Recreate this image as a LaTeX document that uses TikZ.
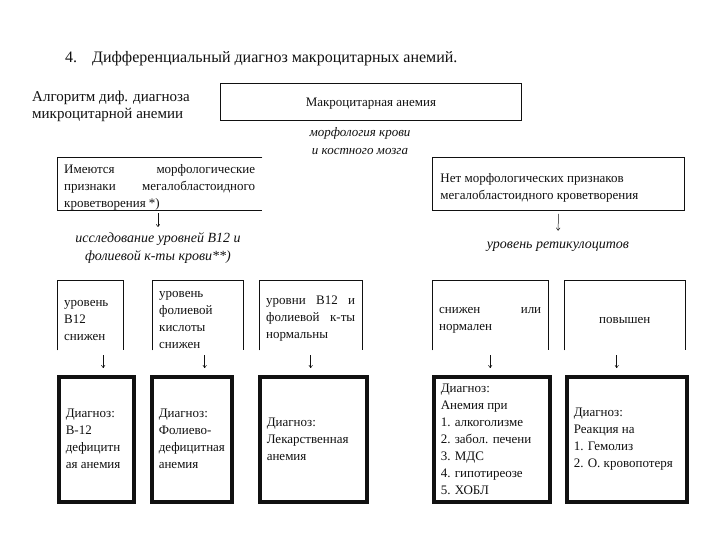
\documentclass[tikz,border=0pt]{standalone}
\usepackage{fontspec}
\setmainfont{Liberation Serif}
\usepackage{tikz}
\usetikzlibrary{arrows.meta,positioning}
\definecolor{MAInk}{HTML}{111111}
\definecolor{MAPaper}{HTML}{FFFFFF}
\tikzset{
  body/.style={text=MAInk,font=\fontsize{13}{17}\selectfont},
  note/.style={text=MAInk,font=\fontsize{13}{18}\selectfont\itshape,align=center},
  bignote/.style={note,font=\fontsize{14}{18}\selectfont\itshape},
  thin/.style={draw=MAInk,line width=0.9pt},
  heavy/.style={draw=MAInk,line width=3.5pt},
  cell/.style={body,anchor=north west,inner xsep=7pt,inner ysep=0pt,align=flush left},
  lower/.style={execute at begin node={\rule{0pt}{16pt}}},
  down/.style={-{To[length=3pt,width=4pt]},MAInk,line width=0.5pt},
}

\begin{document}
\begin{tikzpicture}[x=1pt,y=-1pt]
    \useasboundingbox[fill=MAPaper] (0,0) rectangle (720,540);
    % --- heading ---
    \node[anchor=base west,inner sep=0pt,text=MAInk,font=\fontsize{16}{20}\selectfont] (title) at (65,63)
      {4.\hspace{15pt}Дифференциальный диагноз макроцитарных анемий.};
    \node[anchor=west,align=flush left,inner sep=0pt,text=MAInk,font=\fontsize{15}{17}\selectfont] (algo) at (32,106)
      {Алгоритм диф. диагноза\\микроцитарной анемии};
    \node[body,thin,anchor=north west,minimum width=301,minimum height=37,inner sep=0pt,
          text depth=0pt] (macro) at (220,83) {Макроцитарная анемия};
    \node[note] (morph) at (360,141) {морфология крови\\и костного мозга};

    % --- with / without megaloblastic features ---
    \node[cell,lower,text width=191,minimum height=53] (yes) at (57,157)
      {Имеются\hfill морфологические\\признаки\hfill мегалобластоидного\\кроветворения *)};
    \draw[thin] (yes.north east) -| (yes.south west) -- (yes.south east);
    \node[cell,lower,thin,text width=236,inner xsep=8pt,minimum height=53] (no) at (432,157)
      {Нет морфологических признаков\\мегалобластоидного кроветворения};
    \node[bignote] (yesnote) at (158,248) {исследование уровней B12 и\\фолиевой к-ты крови**)};
    \node[bignote] (nonote) at (558,247) {уровень ретикулоцитов};
    \draw[down,shorten <=3pt,shorten >=2pt] (yesnote.north |- yes.south) -- (yesnote.north);
    \draw[down,shorten <=3pt,shorten >=8pt] (no.south) -- (nonote.north);

    % --- levels (open at the bottom) ---
    \node[cell,lower,text width=52,minimum height=70] (lvlB) at (57,280) {уровень\\B12\\снижен};
    \node[cell,lower,text width=77,minimum height=70] (lvlF) at (152,280) {уровень\\фолиевой\\кислоты\\снижен};
    \node[cell,lower,text width=89,minimum height=70] (lvlN) at (259,280)
      {уровни\hfill B12\hfill и\\фолиевой\hfill к-ты\\нормальны};
    \node[cell,lower,text width=102,minimum height=70] (retLow) at (432,280) {снижен\hfill или\\нормален};
    \node[cell,lower,text width=107,minimum height=70,align=center] (retHigh) at (564,280) {повышен};
    \foreach \n in {lvlB,lvlF,lvlN,retLow,retHigh}{
      \draw[thin] (\n.south west) |- (\n.north east) -- (\n.south east);
    }

    % --- diagnoses ---
    \node[cell,heavy,text width=61,minimum height=125] (dxB) at (57,375)
      {Диагноз:\\B-12\\дефицитн\\ая анемия};
    \node[cell,heavy,text width=66,minimum height=125] (dxF) at (150,375)
      {Диагноз:\\Фолиево-\\дефицитная\\анемия};
    \node[cell,heavy,text width=93,minimum height=125] (dxD) at (258,375)
      {Диагноз:\\Лекарственная\\анемия};
    \node[cell,heavy,text width=102,minimum height=125] (dxO) at (432,375)
      {Диагноз:\\Анемия при\\1. алкоголизме\\2. забол. печени\\3. МДС\\4. гипотиреозе\\5. ХОБЛ};
    \node[cell,heavy,text width=106,minimum height=125] (dxR) at (565,375)
      {Диагноз:\\Реакция на\\1. Гемолиз\\2. О. кровопотеря};

    \draw[down,shorten <=5pt,shorten >=7pt] ([xshift=13]lvlB.south) -- ([xshift=13]lvlB.south |- dxB.north);
    \draw[down,shorten <=5pt,shorten >=7pt] ([xshift=7]lvlF.south) -- ([xshift=7]lvlF.south |- dxF.north);
    \draw[down,shorten <=5pt,shorten >=7pt] (lvlN.south) -- (lvlN.south |- dxD.north);
    \draw[down,shorten <=5pt,shorten >=7pt] (retLow.south) -- (retLow.south |- dxO.north);
    \draw[down,shorten <=5pt,shorten >=7pt] ([xshift=-8]retHigh.south) -- ([xshift=-8]retHigh.south |- dxR.north);
\end{tikzpicture}
\end{document}
